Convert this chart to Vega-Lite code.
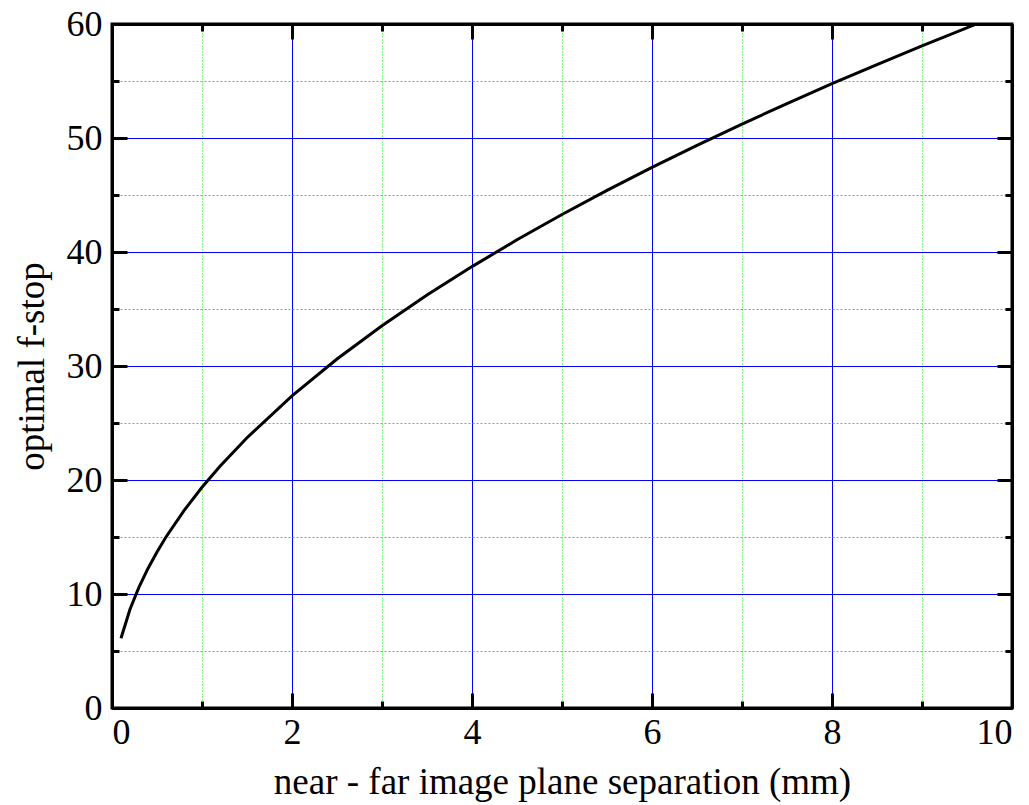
{
  "$schema": "https://vega.github.io/schema/vega-lite/v6.json",
  "width": 900,
  "height": 684,
  "autosize": {"type": "none"},
  "padding": {"left": 112, "top": 24, "right": 17, "bottom": 97},
  "background": "white",
  "config": {
    "view": {"stroke": "black", "strokeWidth": 3},
    "axis": {
      "labelFont": "Liberation Serif",
      "titleFont": "Liberation Serif",
      "labelFontSize": 36,
      "titleFontSize": 37,
      "labelColor": "black",
      "titleColor": "black",
      "titleFontWeight": "normal"
    }
  },
  "data": {
    "values": [
      {"x": 0.1, "f": 6.12},
      {"x": 0.2, "f": 8.66},
      {"x": 0.3, "f": 10.6},
      {"x": 0.4, "f": 12.24},
      {"x": 0.5, "f": 13.69},
      {"x": 0.6, "f": 15.0},
      {"x": 0.8, "f": 17.32},
      {"x": 1.0, "f": 19.36},
      {"x": 1.2, "f": 21.21},
      {"x": 1.5, "f": 23.71},
      {"x": 2.0, "f": 27.38},
      {"x": 2.5, "f": 30.61},
      {"x": 3.0, "f": 33.53},
      {"x": 3.5, "f": 36.22},
      {"x": 4.0, "f": 38.72},
      {"x": 4.5, "f": 41.07},
      {"x": 5.0, "f": 43.29},
      {"x": 5.5, "f": 45.4},
      {"x": 6.0, "f": 47.42},
      {"x": 6.5, "f": 49.36},
      {"x": 7.0, "f": 51.22},
      {"x": 7.5, "f": 53.02},
      {"x": 8.0, "f": 54.76},
      {"x": 8.5, "f": 56.44},
      {"x": 9.0, "f": 58.08},
      {"x": 9.6, "f": 59.98}
    ]
  },
  "resolve": {"axis": {"x": "independent", "y": "independent"}},
  "layer": [
    {
      "mark": {"type": "line", "opacity": 0},
      "encoding": {
        "x": {"field": "x", "type": "quantitative", "scale": {"domain": [0, 10], "nice": false},
          "axis": {"orient": "bottom", "values": [1, 3, 5, 7, 9], "grid": true, "gridColor": "#00ff00", "gridDash": [1, 2], "gridWidth": 1, "labels": false, "ticks": true, "tickSize": -7, "tickWidth": 3, "tickColor": "black", "domain": false, "title": null}},
        "y": {"field": "f", "type": "quantitative", "scale": {"domain": [0, 60], "nice": false},
          "axis": {"orient": "left", "values": [5, 15, 25, 35, 45, 55], "grid": true, "gridColor": "#00ff00", "gridDash": [2, 2], "gridWidth": 1, "labels": false, "ticks": true, "tickSize": -7, "tickWidth": 3, "tickColor": "black", "domain": false, "title": null}}
      }
    },
    {
      "mark": {"type": "line", "opacity": 0},
      "encoding": {
        "x": {"field": "x", "type": "quantitative",
          "axis": {"orient": "bottom", "values": [2, 4, 6, 8], "grid": true, "gridColor": "#0000ff", "gridWidth": 1, "labels": false, "ticks": false, "domain": false, "title": null}},
        "y": {"field": "f", "type": "quantitative",
          "axis": {"orient": "left", "values": [10, 20, 30, 40, 50], "grid": true, "gridColor": "#0000ff", "gridWidth": 1, "labels": false, "ticks": false, "domain": false, "title": null}}
      }
    },
    {
      "mark": {"type": "line", "opacity": 0},
      "encoding": {
        "x": {"field": "x", "type": "quantitative",
          "axis": {"orient": "bottom", "values": [0, 2, 4, 6, 8, 10], "grid": false, "ticks": true, "tickSize": -15, "tickWidth": 3, "tickColor": "black", "labelPadding": 22, "domain": true, "domainColor": "black", "domainWidth": 3, "title": "near - far image plane separation (mm)", "titlePadding": 14, "zindex": 1}},
        "y": {"field": "f", "type": "quantitative",
          "axis": {"orient": "left", "values": [0, 10, 20, 30, 40, 50, 60], "grid": false, "ticks": true, "tickSize": -15, "tickWidth": 3, "tickColor": "black", "labelPadding": 25, "domain": true, "domainColor": "black", "domainWidth": 3, "title": "optimal f-stop", "titlePadding": 15, "zindex": 1}}
      }
    },
    {
      "mark": {"type": "line", "opacity": 0},
      "encoding": {
        "x": {"field": "x", "type": "quantitative",
          "axis": {"orient": "top", "values": [0, 2, 4, 6, 8, 10], "grid": false, "ticks": true, "tickSize": -15, "tickWidth": 3, "tickColor": "black", "labels": false, "domain": true, "domainColor": "black", "domainWidth": 3, "title": null, "zindex": 1}},
        "y": {"field": "f", "type": "quantitative",
          "axis": {"orient": "right", "values": [0, 10, 20, 30, 40, 50, 60], "grid": false, "ticks": true, "tickSize": -15, "tickWidth": 3, "tickColor": "black", "labels": false, "domain": true, "domainColor": "black", "domainWidth": 3, "title": null, "zindex": 1}}
      }
    },
    {
      "mark": {"type": "line", "opacity": 0},
      "encoding": {
        "x": {"field": "x", "type": "quantitative",
          "axis": {"orient": "top", "values": [1, 3, 5, 7, 9], "grid": false, "ticks": true, "tickSize": -7, "tickWidth": 3, "tickColor": "black", "labels": false, "domain": false, "title": null, "zindex": 1}},
        "y": {"field": "f", "type": "quantitative",
          "axis": {"orient": "right", "values": [5, 15, 25, 35, 45, 55], "grid": false, "ticks": true, "tickSize": -7, "tickWidth": 3, "tickColor": "black", "labels": false, "domain": false, "title": null, "zindex": 1}}
      }
    },
    {
      "mark": {"type": "line", "color": "black", "strokeWidth": 3, "clip": true},
      "encoding": {
        "x": {"field": "x", "type": "quantitative", "axis": null},
        "y": {"field": "f", "type": "quantitative", "axis": null}
      }
    }
  ]
}
